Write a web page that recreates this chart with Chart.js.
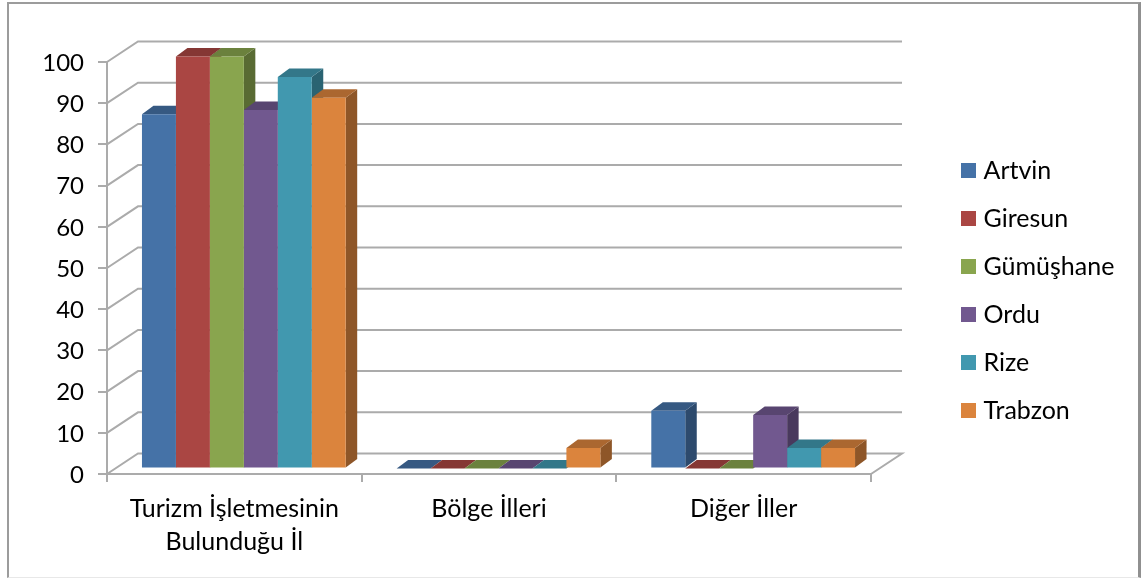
<!DOCTYPE html>
<html>
<head>
<meta charset="utf-8">
<style>
  html, body { margin: 0; padding: 0; background: #fff; }
  #wrap { position: relative; width: 1143px; height: 578px; overflow: hidden; }
  #chart { filter: blur(0.4px); }
  #wrap:after { content: ""; position: absolute; left: 7px; top: 2px; right: 2px; bottom: 0; box-sizing: border-box; pointer-events: none;
    border-style: solid; border-width: 2px 3px 1px 2px; border-color: #9c9c9c #909090 #e8e8e8 #9c9c9c; }
</style>
<script src="https://cdn.jsdelivr.net/npm/chart.js@4"></script>
</head>
<body>
<div id="wrap"><canvas id="chart" width="1143" height="578"></canvas></div>
<script>
const categories = [["Turizm İşletmesinin", "Bulunduğu İl"], "Bölge İlleri", "Diğer İller"];
const artvin = [86, 0, 14];
const giresun = [100, 0, 0];
const gumushane = [100, 0, 0];
const ordu = [87, 0, 13];
const rize = [95, 0, 5];
const trabzon = [90, 5, 5];

const colors = ["#4572A7", "#AA4643", "#89A54E", "#71588F", "#4198AF", "#DB843D"];
const FONT = "Lato";
const GRID = "#ababab";

// wall depth and how far the bars stand off the front axis plane
const wall = { dx: 31, dy: -20.5 };
const barShift = { dx: 9.5, dy: -5.5 };
const barDepth = { dx: 11.5, dy: -8.5 };

function shade(hex, k) {
  const n = parseInt(hex.slice(1), 16);
  const c = [n >> 16, (n >> 8) & 255, n & 255].map(v => Math.round(v * k));
  return "rgb(" + c.join(",") + ")";
}

function poly(ctx, pts, fill) {
  ctx.beginPath();
  pts.forEach((p, i) => i ? ctx.lineTo(p[0], p[1]) : ctx.moveTo(p[0], p[1]));
  ctx.closePath();
  ctx.fillStyle = fill;
  ctx.fill();
}

const walls = {
  id: "walls",
  beforeDatasetsDraw(chart) {
    const { ctx, chartArea: a, scales } = chart;
    ctx.save();
    ctx.strokeStyle = GRID;
    ctx.lineWidth = 2;
    scales.y.ticks.forEach(t => {
      const y = scales.y.getPixelForValue(t.value);
      ctx.beginPath();
      ctx.moveTo(a.left, y);
      ctx.lineTo(a.left + wall.dx, y + wall.dy);
      ctx.lineTo(a.right + wall.dx, y + wall.dy);
      if (t.value === 0) ctx.lineTo(a.right, y);
      ctx.stroke();
    });
    ctx.restore();
  }
};

const bars3d = {
  id: "bars3d",
  beforeDatasetsDraw(chart) {
    const ctx = chart.ctx;
    ctx.save();
    ctx.translate(barShift.dx, barShift.dy);
    const metas = chart.getSortedVisibleDatasetMetas().slice().sort((p, q) => p.index - q.index);
    categories.forEach((c, i) => {
      metas.forEach(m => {
        const b = m.data[i];
        const col = chart.data.datasets[m.index].backgroundColor;
        const l = b.x - b.width / 2, r = b.x + b.width / 2;
        const d = barDepth;
        if (b.base > b.y) poly(ctx, [[r, b.y], [r + d.dx, b.y + d.dy], [r + d.dx, b.base + d.dy], [r, b.base]], shade(col, 0.65));
        poly(ctx, [[l, b.y], [l + d.dx, b.y + d.dy], [r + d.dx, b.y + d.dy], [r, b.y]], shade(col, 0.78));
      });
    });
  },
  afterDatasetsDraw(chart) {
    chart.ctx.restore();
  }
};

// legend sits far off the plot, with a fixed-width box so the plot keeps its size
const legendPlace = {
  id: "legendPlace",
  beforeLayout(chart) {
    const lg = chart.legend;
    const fit = lg.fit;
    lg.fit = function () { fit.call(this); this.width = 272; };
  },
  afterLayout(chart) {
    const lg = chart.legend;
    lg.left = 966 - 23;
    lg.top = 135;
    lg.bottom = 578;
  }
};

function set(label, data, color) {
  return { label, data, backgroundColor: color, borderWidth: 0, clip: false };
}

new Chart(document.getElementById("chart"), {
  type: "bar",
  data: {
    labels: categories,
    datasets: [
      set("Artvin", artvin, colors[0]),
      set("Giresun", giresun, colors[1]),
      set("Gümüşhane", gumushane, colors[2]),
      set("Ordu", ordu, colors[3]),
      set("Rize", rize, colors[4]),
      set("Trabzon", trabzon, colors[5])
    ]
  },
  options: {
    responsive: false,
    animation: false,
    barPercentage: 1,
    categoryPercentage: 0.8,
    layout: { padding: { left: 0, top: 62, right: 0, bottom: 0 } },
    plugins: {
      tooltip: { enabled: false },
      legend: {
        position: "right",
        align: "start",
        labels: {
          usePointStyle: true,
          pointStyle: "rect",
          boxWidth: 5,
          boxHeight: 15,
          padding: 23,
          color: "#000",
          font: { family: FONT, size: 25 }
        }
      }
    },
    scales: {
      x: {
        afterFit(s) { s.height = 104; },
        border: { color: GRID, width: 2 },
        grid: { drawOnChartArea: false, drawTicks: true, tickLength: 8, color: GRID, lineWidth: 2 },
        ticks: {
          maxRotation: 0,
          autoSkip: false,
          padding: 10,
          color: "#000",
          font: { family: FONT, size: 25, lineHeight: 1.32 }
        }
      },
      y: {
        min: 0,
        max: 100,
        afterFit(s) { s.width = 107; },
        border: { color: GRID, width: 2 },
        grid: { drawOnChartArea: false, drawTicks: true, tickLength: 9, color: GRID, lineWidth: 2 },
        ticks: {
          stepSize: 10,
          padding: 14,
          labelOffset: 1,
          color: "#000",
          font: { family: FONT, size: 24 }
        }
      }
    }
  },
  plugins: [walls, bars3d, legendPlace]
});
</script>
</body>
</html>
